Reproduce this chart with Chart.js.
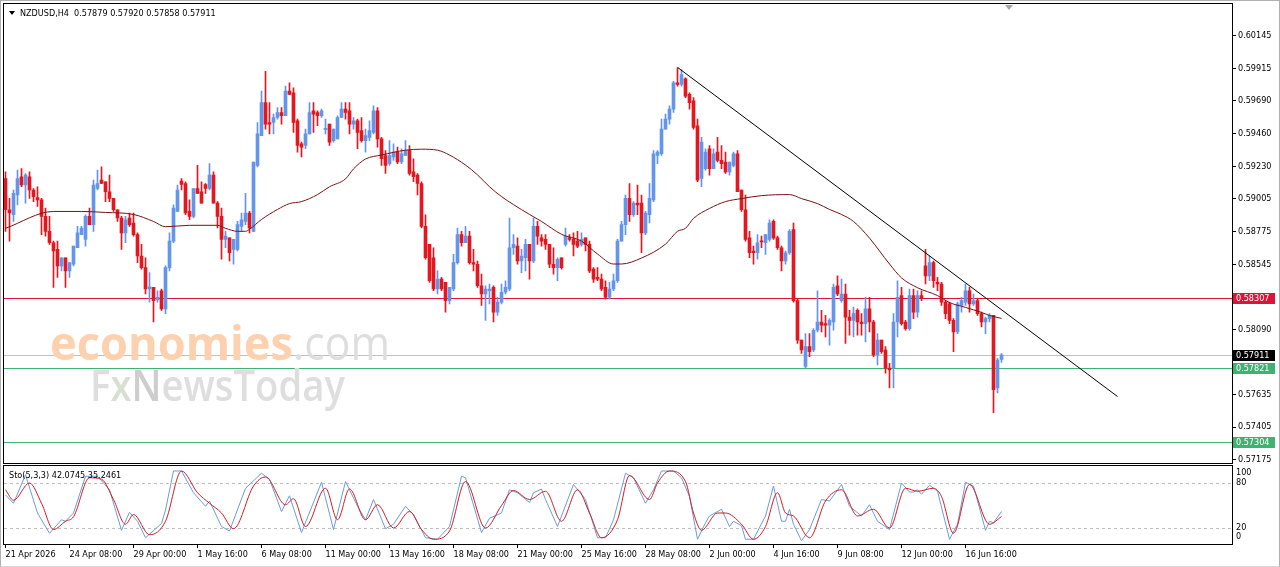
<!DOCTYPE html>
<html>
<head>
<meta charset="utf-8">
<title>NZDUSD H4</title>
<script src="https://cdn.jsdelivr.net/npm/chart.js@4.4.1/dist/chart.umd.min.js"></script>
<style>
  html, body { margin: 0; padding: 0; background: #fff; }
  #frame { position: relative; width: 1280px; height: 567px; overflow: hidden; background: #fff; }
  #frame canvas { position: absolute; left: 0; }
  #mainChart { top: 0; }
  #stochChart { top: 464px; }
  #edge { position: absolute; left: 0; top: 0; right: 0; bottom: 0; border: 1px solid #b0b0b0; border-bottom-color: #d8d8d8; pointer-events: none; }
</style>
</head>
<body>
<div id="frame">
  <canvas id="mainChart" width="1280" height="470"></canvas>
  <canvas id="stochChart" width="1280" height="103"></canvas>
  <div id="edge"></div>
</div>
<script>
// NZDUSD H4 candles, oldest first (250 bars)
const opens = [
  0.59146,0.58927,0.58892,0.59030,0.59158,0.59100,0.59158,0.59065,0.59012,0.58996,
  0.58881,0.58776,0.58696,0.58649,0.58534,0.58591,0.58499,0.58545,0.58661,0.58753,
  0.58719,0.58881,0.58823,0.59076,0.59134,0.59123,0.59053,0.59007,0.58927,0.58869,
  0.58765,0.58869,0.58834,0.58753,0.58603,0.58522,0.58372,0.58383,0.58296,0.58360,
  0.58233,0.58522,0.58707,0.58915,0.59127,0.59111,0.58915,0.58881,0.59076,0.59053,
  0.59104,0.59076,0.59169,0.58973,0.58881,0.58719,0.58730,0.58649,0.58649,0.58811,
  0.58846,0.58904,0.58776,0.59238,0.59446,0.59677,0.59538,0.59538,0.59573,0.59608,
  0.59585,0.59758,0.59746,0.59550,0.59388,0.59377,0.59458,0.59619,0.59608,0.59585,
  0.59488,0.59527,0.59411,0.59423,0.59573,0.59631,0.59619,0.59527,0.59550,0.59481,
  0.59411,0.59434,0.59469,0.59619,0.59423,0.59307,0.59250,0.59296,0.59331,0.59261,
  0.59307,0.59342,0.59192,0.59169,0.59111,0.58811,0.58684,0.58591,0.58372,0.58441,
  0.58418,0.58291,0.58372,0.58557,0.58753,0.58696,0.58742,0.58557,0.58545,0.58395,
  0.58337,0.58360,0.58383,0.58210,0.58280,0.58349,0.58372,0.58661,0.58672,0.58568,
  0.58591,0.58684,0.58568,0.58811,0.58730,0.58719,0.58684,0.58545,0.58522,0.58591,
  0.58684,0.58730,0.58719,0.58707,0.58684,0.58730,0.58684,0.58511,0.58453,0.58441,
  0.58383,0.58314,0.58372,0.58430,0.58707,0.58823,0.59007,0.58892,0.58973,0.58973,
  0.58765,0.58892,0.58996,0.59307,0.59319,0.59492,0.59562,0.59631,0.59816,0.59804,
  0.59843,0.59735,0.59689,0.59515,0.59146,0.59215,0.59354,0.59215,0.59331,0.59273,
  0.59261,0.59192,0.59238,0.59319,0.59065,0.58927,0.58730,0.58638,0.58626,0.58707,
  0.58696,0.58719,0.58846,0.58730,0.58661,0.58568,0.58626,0.58788,0.58291,0.58014,
  0.57829,0.57968,0.57945,0.58083,0.58141,0.58129,0.58118,0.58141,0.58395,0.58291,
  0.58337,0.58175,0.58152,0.58222,0.58141,0.58129,0.58233,0.58141,0.57910,0.58014,
  0.57945,0.57818,0.57818,0.58141,0.58326,0.58141,0.58095,0.58326,0.58210,0.58326,
  0.58534,0.58464,0.58557,0.58418,0.58407,0.58280,0.58268,0.58152,0.58072,0.58257,
  0.58280,0.58360,0.58268,0.58291,0.58199,0.58141,0.58164,0.58187,0.57679,0.57879
];
const highs = [
  0.59192,0.59007,0.59065,0.59204,0.59215,0.59181,0.59192,0.59076,0.59088,0.59007,
  0.58938,0.58881,0.58707,0.58707,0.58591,0.58591,0.58557,0.58672,0.58811,0.58811,
  0.58892,0.58938,0.59134,0.59204,0.59227,0.59123,0.59169,0.59007,0.58927,0.58881,
  0.58881,0.58904,0.58904,0.58765,0.58684,0.58591,0.58487,0.58383,0.58360,0.58372,
  0.58534,0.58765,0.58961,0.59100,0.59146,0.59123,0.58996,0.59076,0.59238,0.59123,
  0.59111,0.59250,0.59192,0.58984,0.58938,0.58776,0.58730,0.58719,0.58846,0.58904,
  0.59042,0.58915,0.59261,0.59538,0.59758,0.59896,0.59677,0.59596,0.59643,0.59643,
  0.59793,0.59816,0.59781,0.59562,0.59400,0.59492,0.59677,0.59677,0.59619,0.59631,
  0.59562,0.59527,0.59492,0.59585,0.59677,0.59677,0.59677,0.59573,0.59562,0.59573,
  0.59492,0.59550,0.59654,0.59643,0.59434,0.59342,0.59411,0.59388,0.59365,0.59354,
  0.59411,0.59377,0.59284,0.59181,0.59123,0.58892,0.58684,0.58661,0.58499,0.58453,
  0.58418,0.58383,0.58614,0.58799,0.58776,0.58811,0.58776,0.58649,0.58568,0.58476,
  0.58395,0.58407,0.58395,0.58314,0.58407,0.58430,0.58869,0.58753,0.58730,0.58649,
  0.58719,0.58684,0.58869,0.58846,0.58753,0.58753,0.58684,0.58661,0.58591,0.58591,
  0.58799,0.58753,0.58765,0.58776,0.58765,0.58730,0.58707,0.58522,0.58522,0.58476,
  0.58430,0.58418,0.58476,0.58719,0.58846,0.59030,0.59111,0.58984,0.59100,0.59030,
  0.58915,0.59111,0.59342,0.59342,0.59562,0.59596,0.59654,0.59827,0.59920,0.59908,
  0.59850,0.59746,0.59712,0.59562,0.59434,0.59354,0.59377,0.59354,0.59434,0.59377,
  0.59331,0.59261,0.59331,0.59342,0.59065,0.59030,0.58776,0.58672,0.58753,0.58742,
  0.58753,0.58857,0.58857,0.58742,0.58672,0.58638,0.58788,0.58834,0.58303,0.58014,
  0.58060,0.58060,0.58095,0.58360,0.58222,0.58187,0.58164,0.58407,0.58464,0.58441,
  0.58407,0.58222,0.58245,0.58233,0.58199,0.58314,0.58314,0.58152,0.58060,0.58014,
  0.57968,0.57852,0.58199,0.58430,0.58383,0.58152,0.58372,0.58372,0.58360,0.58360,
  0.58649,0.58603,0.58568,0.58453,0.58418,0.58291,0.58280,0.58164,0.58280,0.58314,
  0.58407,0.58383,0.58337,0.58303,0.58210,0.58175,0.58199,0.58187,0.57887,0.57920
];
const lows = [
  0.58776,0.58707,0.58846,0.58961,0.59088,0.58973,0.59007,0.58984,0.58950,0.58753,
  0.58742,0.58684,0.58383,0.58453,0.58499,0.58383,0.58453,0.58534,0.58661,0.58753,
  0.58672,0.58823,0.58776,0.59065,0.59111,0.58984,0.58984,0.58915,0.58846,0.58649,
  0.58696,0.58811,0.58742,0.58557,0.58511,0.58337,0.58280,0.58141,0.58280,0.58222,
  0.58199,0.58499,0.58696,0.58915,0.59065,0.58892,0.58857,0.58869,0.59042,0.58973,
  0.59042,0.59065,0.58973,0.58799,0.58580,0.58661,0.58568,0.58545,0.58638,0.58776,
  0.58823,0.58765,0.58776,0.59227,0.59446,0.59492,0.59458,0.59458,0.59562,0.59527,
  0.59585,0.59735,0.59469,0.59331,0.59296,0.59354,0.59458,0.59469,0.59515,0.59573,
  0.59458,0.59377,0.59400,0.59423,0.59573,0.59562,0.59458,0.59492,0.59354,0.59400,
  0.59331,0.59411,0.59458,0.59365,0.59238,0.59181,0.59238,0.59273,0.59250,0.59250,
  0.59307,0.59169,0.59123,0.59030,0.58799,0.58580,0.58418,0.58360,0.58337,0.58360,
  0.58210,0.58268,0.58360,0.58545,0.58672,0.58696,0.58545,0.58499,0.58383,0.58257,
  0.58152,0.58268,0.58141,0.58187,0.58268,0.58337,0.58360,0.58614,0.58545,0.58487,
  0.58499,0.58441,0.58557,0.58684,0.58672,0.58649,0.58522,0.58476,0.58430,0.58511,
  0.58672,0.58707,0.58603,0.58661,0.58672,0.58638,0.58487,0.58418,0.58430,0.58360,
  0.58303,0.58303,0.58360,0.58418,0.58707,0.58753,0.58846,0.58881,0.58892,0.58626,
  0.58753,0.58834,0.58984,0.59250,0.59307,0.59492,0.59527,0.59608,0.59793,0.59793,
  0.59712,0.59631,0.59492,0.59123,0.59088,0.59204,0.59169,0.59215,0.59261,0.59215,
  0.59181,0.59169,0.59227,0.59053,0.58915,0.58707,0.58591,0.58545,0.58580,0.58661,
  0.58614,0.58707,0.58719,0.58649,0.58499,0.58545,0.58614,0.58280,0.57991,0.57921,
  0.57818,0.57898,0.57933,0.58072,0.58072,0.58037,0.57979,0.58083,0.58326,0.58280,
  0.57991,0.58048,0.58037,0.58048,0.58048,0.58002,0.58072,0.57898,0.57840,0.57921,
  0.57783,0.57679,0.57679,0.58037,0.58118,0.58083,0.58083,0.58164,0.58175,0.58291,
  0.58407,0.58430,0.58383,0.58360,0.58257,0.58164,0.58129,0.57933,0.58060,0.58210,
  0.58257,0.58210,0.58257,0.58187,0.58106,0.58060,0.58141,0.57506,0.57644,0.57858
];
const closes = [
  0.58927,0.58904,0.59042,0.59146,0.59100,0.59169,0.59065,0.59019,0.58996,0.58881,
  0.58776,0.58696,0.58638,0.58534,0.58591,0.58499,0.58557,0.58672,0.58765,0.58799,
  0.58881,0.58823,0.59100,0.59111,0.59111,0.59053,0.59007,0.58927,0.58869,0.58765,
  0.58857,0.58823,0.58753,0.58603,0.58522,0.58372,0.58388,0.58291,0.58314,0.58233,
  0.58522,0.58707,0.58938,0.59065,0.59104,0.58904,0.58881,0.59076,0.59042,0.58973,
  0.59076,0.59169,0.58973,0.58881,0.58719,0.58742,0.58626,0.58719,0.58823,0.58857,
  0.58904,0.58799,0.59261,0.59458,0.59677,0.59527,0.59527,0.59573,0.59608,0.59585,
  0.59758,0.59735,0.59538,0.59377,0.59365,0.59458,0.59608,0.59596,0.59585,0.59619,
  0.59497,0.59400,0.59492,0.59573,0.59631,0.59608,0.59527,0.59550,0.59469,0.59411,
  0.59446,0.59481,0.59619,0.59423,0.59284,0.59238,0.59307,0.59331,0.59261,0.59319,
  0.59342,0.59181,0.59158,0.59111,0.58811,0.58591,0.58430,0.58372,0.58441,0.58372,
  0.58291,0.58383,0.58557,0.58753,0.58696,0.58742,0.58557,0.58545,0.58395,0.58337,
  0.58372,0.58372,0.58210,0.58280,0.58349,0.58383,0.58661,0.58684,0.58568,0.58603,
  0.58684,0.58568,0.58811,0.58742,0.58707,0.58684,0.58545,0.58522,0.58580,0.58522,
  0.58742,0.58719,0.58684,0.58672,0.58719,0.58684,0.58499,0.58441,0.58441,0.58372,
  0.58314,0.58372,0.58430,0.58707,0.58823,0.59007,0.58892,0.58973,0.58961,0.58765,
  0.58904,0.59007,0.59319,0.59331,0.59492,0.59562,0.59631,0.59816,0.59804,0.59873,
  0.59723,0.59677,0.59504,0.59134,0.59400,0.59331,0.59215,0.59319,0.59273,0.59250,
  0.59192,0.59261,0.59319,0.59053,0.58927,0.58719,0.58626,0.58626,0.58696,0.58702,
  0.58753,0.58834,0.58730,0.58661,0.58568,0.58626,0.58776,0.58291,0.58014,0.57945,
  0.57968,0.57933,0.58083,0.58141,0.58118,0.58118,0.58152,0.58383,0.58337,0.58337,
  0.58175,0.58152,0.58199,0.58141,0.58129,0.58233,0.58141,0.57910,0.58014,0.57933,
  0.57818,0.57806,0.58141,0.58314,0.58129,0.58095,0.58326,0.58210,0.58326,0.58310,
  0.58464,0.58557,0.58430,0.58407,0.58280,0.58199,0.58152,0.58072,0.58268,0.58291,
  0.58360,0.58268,0.58291,0.58199,0.58141,0.58164,0.58187,0.57667,0.57875,0.57911
];

// time axis labels (one every 16 bars)
const timeLabels = ['21 Apr 2026', '24 Apr 08:00', '29 Apr 00:00', '1 May 16:00', '6 May 08:00',
  '11 May 00:00', '13 May 16:00', '18 May 08:00', '21 May 00:00', '25 May 16:00', '28 May 08:00',
  '2 Jun 00:00', '4 Jun 16:00', '9 Jun 08:00', '12 Jun 00:00', '16 Jun 16:00'];
const timeLabelBars = [0, 16, 32, 48, 64, 80, 96, 112, 128, 144, 160, 176, 192, 208, 224, 240];

// moving average (bar index, price)
const maBars = [0,12,19,25,32,37,40,46,53,55,58,60,61,64,68,71,74,78,81,85,
  87,90,94,100,104,108,111,115,118,121,124,127,131,134,139,144,148,152,154,159,
  165,168,170,172,176,180,184,189,196,199,203,206,209,212,216,221,224,228,233,236,
  240,244,246,249];
const maValues = [0.58797,0.58915,0.58915,0.58908,0.58894,0.58845,0.58808,0.58818,0.58818,0.58797,
  0.58776,0.58776,0.58790,0.58859,0.58929,0.58970,0.58984,0.59033,0.59088,0.59143,
  0.59213,0.59282,0.59310,0.59344,0.59351,0.59344,0.59310,0.59240,0.59171,0.59088,
  0.59019,0.58963,0.58894,0.58845,0.58755,0.58707,0.58617,0.58547,0.58547,0.58589,
  0.58686,0.58776,0.58797,0.58866,0.58936,0.58984,0.59005,0.59026,0.59033,0.59005,
  0.58970,0.58929,0.58894,0.58845,0.58728,0.58547,0.58450,0.58381,0.58326,0.58277,
  0.58243,0.58208,0.58187,0.58166];

// descending trend line from the 28 May high
const trendBars = [168, 278];
const trendValues = [0.59924, 0.57619];

// horizontal levels
const resistance = 0.58307;
const lastPrice = 0.57911;
const support1 = 0.57821;
const support2 = 0.57304;

// price axis ticks
const priceTicks = [0.60145, 0.59915, 0.59690, 0.59460, 0.59230, 0.59005, 0.58775,
  0.58545, 0.58090, 0.57635, 0.57405, 0.57175];

// Stochastic (5,3,3): main line (blue) and signal (red), read at turning points
const kBars = [0,2,5,8,11,14,15,17,20,23,26,29,31,33,35,39,40,42,44,47,
  50,51,54,56,60,64,66,69,71,74,79,82,85,88,90,92,95,97,100,102,
  105,108,111,114,115,119,121,124,126,128,131,132,134,135,138,139,142,145,148,150,
  152,155,157,160,162,164,167,169,171,173,175,176,179,181,182,184,185,187,190,192,
  194,195,196,197,199,201,204,206,209,211,214,216,218,221,224,226,227,228,229,231,
  233,236,238,240,242,245,246,247,249];
const kValues = [64,53,91,40,13,31,29,40,89,89,71,17,41,29,7,26,44,96,96,67,
  49,56,22,16,73,93,85,42,63,14,81,18,82,49,31,58,19,25,49,38,
  7,5,22,89,87,14,33,40,71,67,54,67,72,58,22,36,78,58,7,7,
  31,93,87,53,71,96,96,87,62,5,27,36,45,22,29,23,5,5,36,76,
  29,29,45,25,3,18,58,56,78,49,36,51,29,18,80,68,68,71,65,77,
  69,5,25,81,76,17,29,27,42.07];
const dBars = [0,2,6,9,12,15,17,21,24,27,30,32,36,40,44,48,51,54,57,62,
  65,70,72,75,80,83,86,90,93,97,101,104,107,111,115,120,124,127,131,135,
  139,143,146,149,153,156,161,163,166,170,172,174,178,180,184,187,190,193,195,197,
  201,205,209,213,217,221,225,228,232,234,237,241,246,249];
const dValues = [71,57,80,53,18,29,35,87,85,58,25,38,11,29,96,67,53,40,19,76,
  88,51,59,22,73,31,72,31,51,20,42,18,5,16,82,20,50,70,58,69,
  29,71,40,7,31,90,58,80,96,82,40,17,40,40,25,5,22,67,40,36,
  7,56,71,36,45,20,73,69,73,62,13,78,25,35.25];
const stochLevels = [80, 20];
const stochAxisLabels = ['100', '80', '20', '0'];

// ---- styling ----
const FONT = "'DejaVu Sans Condensed', 'Liberation Sans', sans-serif";
const BULL = '#6495ed';
const BEAR = '#e3171d';
const X_MIN = -0.375, X_MAX = 306.625;     // 4 px per bar, first bar at x=5.5
const Y_MIN = 0.571563, Y_MAX = 0.603439;

Chart.defaults.font.family = FONT;
Chart.defaults.font.size = 9;
Chart.defaults.color = '#000';

const bars = opens.map((o, i) => i);
const candleColours = bars.map(i => closes[i] >= opens[i] ? BULL : BEAR);
const pts = (xs, ys) => xs.map((x, k) => ({ x: x, y: ys[k] }));
const plainLine = (data, colour, order, extra) => Object.assign({
  type: 'line', data: data, borderColor: colour, borderWidth: 1, pointRadius: 0, order: order
}, extra || {});

// crisp horizontal line across the plot area at a scale value
function hLine(chart, value, colour, dash) {
  const ctx = chart.ctx, a = chart.chartArea;
  const y = Math.round(chart.scales.y.getPixelForValue(value)) + 0.5;
  ctx.save();
  ctx.strokeStyle = colour;
  ctx.lineWidth = 1;
  ctx.setLineDash(dash || []);
  ctx.beginPath();
  ctx.moveTo(a.left, y);
  ctx.lineTo(a.right, y);
  ctx.stroke();
  ctx.restore();
}

// decorations for the price panel
const priceDecor = {
  id: 'priceDecor',
  beforeDatasetsDraw(chart) {
    hLine(chart, resistance, '#dc143c');
    hLine(chart, lastPrice, '#c0c0c0');
    hLine(chart, support1, '#3cb371');
    hLine(chart, support2, '#3cb371');
  },
  afterDatasetsDraw(chart) {
    const ctx = chart.ctx;
    // watermark
    ctx.save();
    ctx.textBaseline = 'alphabetic';
    ctx.font = "bold 47px 'Open Sans', sans-serif";
    let sx = 243 / ctx.measureText('economies').width;
    ctx.save();
    ctx.translate(50, 360);
    ctx.scale(sx, 1);
    ctx.fillStyle = '#fdd0ae';
    ctx.fillText('economies', 0, 0);
    ctx.restore();
    ctx.font = "47px 'Open Sans', sans-serif";
    sx = 97 / ctx.measureText('.com').width;
    ctx.save();
    ctx.translate(293, 360);
    ctx.scale(sx, 1);
    ctx.fillStyle = '#dedede';
    ctx.fillText('.com', 0, 0);
    ctx.restore();

    ctx.font = "600 43px 'Open Sans', sans-serif";
    sx = 255 / ctx.measureText('FxNewsToday').width;
    ctx.translate(90, 401);
    ctx.scale(sx, 1);
    ctx.fillStyle = '#dedede';
    ctx.fillText('F', 0, 0);
    const wF = ctx.measureText('F').width;
    ctx.fillStyle = '#d8e0d2';
    ctx.fillText('x', wF, 0);
    const wX = ctx.measureText('x').width;
    ctx.fillStyle = '#cdcdcd';
    ctx.fillText('N', wF + wX, 0);
    ctx.fillStyle = '#dedede';
    ctx.fillText('ewsToday', wF + wX + ctx.measureText('N').width, 0);
    ctx.restore();
  },
  afterDraw(chart) {
    const ctx = chart.ctx;
    const yScale = chart.scales.y;
    ctx.save();
    ctx.strokeStyle = '#000';
    ctx.lineWidth = 1;
    ctx.strokeRect(3.5, 3.5, 1229, 460);

    // header
    ctx.fillStyle = '#000';
    ctx.beginPath();
    ctx.moveTo(9, 11); ctx.lineTo(15, 11); ctx.lineTo(12, 15); ctx.closePath();
    ctx.fill();
    ctx.font = '9px ' + FONT;
    ctx.textBaseline = 'middle';
    const last = opens.length - 1;
    const ohlc = [opens[last], highs[last], lows[last], closes[last]].map(v => v.toFixed(5)).join(' ');
    ctx.fillText('NZDUSD,H4  ' + ohlc, 20, 13.5);

    // chart-shift marker
    ctx.fillStyle = '#a8a8a8';
    ctx.beginPath();
    ctx.moveTo(1005, 5); ctx.lineTo(1013, 5); ctx.lineTo(1009, 10); ctx.closePath();
    ctx.fill();

    // price labels of the horizontal lines
    const boxes = [[resistance, '#dc143c'], [lastPrice, '#000000'], [support1, '#3cb371'], [support2, '#3cb371']];
    boxes.forEach(([v, c]) => {
      const y = Math.round(yScale.getPixelForValue(v));
      ctx.fillStyle = c;
      ctx.fillRect(1233, y - 5, 42, 11);
      ctx.fillStyle = '#fff';
      ctx.fillText(v.toFixed(5), 1236, y + 0.5);
    });
    ctx.restore();
  }
};

new Chart(document.getElementById('mainChart'), {
  type: 'bar',
  data: {
    datasets: [
      plainLine(pts(maBars, maValues), '#7a1010', 0, { cubicInterpolationMode: 'monotone' }),
      plainLine(pts(trendBars, trendValues), '#000000', 0),
      { type: 'bar', data: bars.map(i => ({ x: i, y: [Math.min(opens[i], closes[i]), Math.max(opens[i], closes[i])] })),
        backgroundColor: candleColours, barThickness: 3, minBarLength: 1, grouped: false, order: 1 },
      { type: 'bar', data: bars.map(i => ({ x: i, y: [lows[i], highs[i]] })),
        backgroundColor: candleColours, barThickness: 1, grouped: false, order: 2 }
    ]
  },
  options: {
    responsive: false,
    devicePixelRatio: 1,
    animation: false,
    events: [],
    layout: { padding: { left: 4, top: 4, right: 0, bottom: 6 } },
    plugins: { legend: { display: false }, tooltip: { enabled: false } },
    scales: {
      x: { type: 'linear', min: X_MIN, max: X_MAX, offset: false, display: false },
      y: {
        position: 'right', min: Y_MIN, max: Y_MAX, beginAtZero: false,
        afterBuildTicks: s => { s.ticks = priceTicks.map(v => ({ value: v })); },
        afterFit: s => { s.width = 48; },
        ticks: { callback: v => v.toFixed(5), padding: 2, color: '#000', autoSkip: false },
        grid: { drawOnChartArea: false, drawTicks: true, tickLength: 4, color: '#000' },
        border: { display: true, color: '#000' }
      }
    }
  },
  plugins: [priceDecor]
});

// decorations for the oscillator panel
const stochDecor = {
  id: 'stochDecor',
  beforeDatasetsDraw(chart) {
    stochLevels.forEach(v => hLine(chart, v, '#c0c0c0', [3, 3]));
  },
  afterDraw(chart) {
    const ctx = chart.ctx;
    const yScale = chart.scales.y;
    ctx.save();
    ctx.strokeStyle = '#000';
    ctx.lineWidth = 1;
    ctx.strokeRect(3.5, 1.5, 1229, 79);
    ctx.fillStyle = '#000';
    ctx.font = '9px ' + FONT;
    ctx.textBaseline = 'middle';
    ctx.fillText('Sto(5,3,3) 42.0745 35.2461', 9, 12);
    const nudges = [5, 0, 0, -6];
    stochAxisLabels.forEach((t, k) => {
      const y = yScale.getPixelForValue(Number(t)) + nudges[k];
      ctx.fillText(t, 1236, y);
    });
    ctx.restore();
  }
};

new Chart(document.getElementById('stochChart'), {
  type: 'line',
  data: {
    datasets: [
      plainLine(pts(dBars, dValues), '#d11b22', 0, { cubicInterpolationMode: 'monotone' }),
      plainLine(pts(kBars, kValues), '#6d9bd6', 1, { tension: 0 })
    ]
  },
  options: {
    responsive: false,
    devicePixelRatio: 1,
    animation: false,
    events: [],
    layout: { padding: { left: 4, top: 2, right: 48, bottom: 0 } },
    plugins: { legend: { display: false }, tooltip: { enabled: false } },
    scales: {
      x: {
        type: 'linear', min: X_MIN, max: X_MAX, offset: false, position: 'bottom',
        afterBuildTicks: s => { s.ticks = timeLabelBars.map(v => ({ value: v })); },
        afterFit: s => { s.height = 23; },
        ticks: { autoSkip: false, maxRotation: 0, minRotation: 0, align: 'start', padding: 1, color: '#000',
          callback: (v, i) => timeLabels[i] },
        grid: { drawOnChartArea: false, drawTicks: true, tickLength: 4, color: '#000' },
        border: { display: true, color: '#000' }
      },
      y: { display: false, min: -1.33, max: 102.67 }
    }
  },
  plugins: [stochDecor]
});
</script>
</body>
</html>
